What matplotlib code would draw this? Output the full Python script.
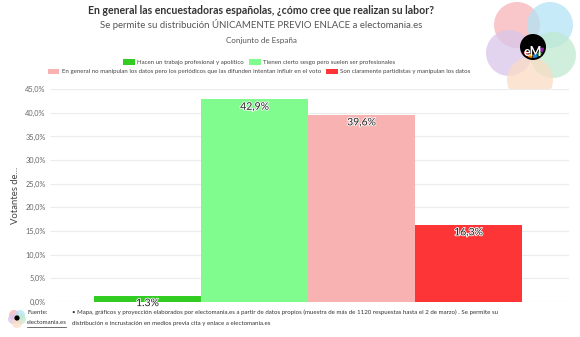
import matplotlib
matplotlib.use("Agg")
import matplotlib.pyplot as plt
from matplotlib.patches import Circle, Patch, Wedge
import matplotlib.patheffects as pe

plt.rcParams['font.family'] = ['Lato', 'DejaVu Sans']

# data
categories = [
    "Hacen un trabajo profesional y apolítico",
    "Tienen cierto sesgo pero suelen ser profesionales",
    "En general no manipulan los datos pero los periódicos que las difunden intentan influir en el voto",
    "Son claramente partidistas y manipulan los datos",
]
values = [1.3, 42.9, 39.6, 16.3]
value_labels = ["1.3%", "42,9%", "39,6%", "16,3%"]
bar_colors = ["#33cc22", "#80fb8e", "#f9b2b2", "#fd3537"]
yticks = [0, 5, 10, 15, 20, 25, 30, 35, 40, 45]
ytick_labels = ["0,0%", "5,0%", "10,0%", "15,0%", "20,0%", "25,0%",
                "30,0%", "35,0%", "40,0%", "45,0%"]

W, H = 580, 337
fig = plt.figure(figsize=(W / 100, H / 100), dpi=100)
fig.patch.set_facecolor("white")

ax = fig.add_axes([50 / W, 1 - 301.7 / H, 519 / W, 212.4 / H])
xs = list(range(len(values)))
ax.bar(xs, values, width=1.0, color=bar_colors, zorder=2)
ax.set_xlim(-0.911, 3.939)
ax.set_ylim(0, 45)
ax.set_yticks(yticks)
ax.set_yticklabels(ytick_labels, fontsize=5.3, color="#666666")
ax.set_xticks([])
ax.tick_params(axis="y", length=0, pad=3)
ax.grid(axis="y", color="#ececec", linewidth=0.8, zorder=0)
for s in ax.spines.values():
    s.set_visible(False)
ax.set_ylabel("Votantes de...", fontsize=6.8, color="#444444", labelpad=4)

for x, v, lab in zip(xs, values, value_labels):
    ax.annotate(lab, (x, v), xytext=(0, -5.8), textcoords="offset points",
                ha="center", va="center", fontsize=7.5, color="#222222",
                path_effects=[pe.withStroke(linewidth=1.2, foreground="white")],
                annotation_clip=False, zorder=5)

# titles
fig.text(261 / W, 1 - 11 / H,
         "En general las encuestadoras españolas, ¿cómo cree que realizan su labor?",
         ha="center", va="center", fontsize=7.6, fontweight="bold", color="#333333")
fig.text(261 / W, 1 - 24 / H,
         "Se permite su distribución ÚNICAMENTE PREVIO ENLACE a electomania.es",
         ha="center", va="center", fontsize=6.9, color="#555555")
fig.text(261 / W, 1 - 41 / H, "Conjunto de España",
         ha="center", va="center", fontsize=5.8, color="#555555")

# legend in two rows
handles = [Patch(facecolor=c, edgecolor="none") for c in bar_colors]
leg_kw = dict(ncol=2, loc="center", frameon=False, fontsize=4.4,
              handlelength=1.9, handleheight=1.0, handletextpad=0.35,
              columnspacing=0.9, labelcolor="#444444", borderpad=0)
fig.legend(handles[:2], categories[:2],
           bbox_to_anchor=(259 / W, 1 - 62 / H), **leg_kw)
fig.legend(handles[2:], categories[2:],
           bbox_to_anchor=(259 / W, 1 - 71.5 / H), **leg_kw)

# logo drawn in a pixel-coordinate overlay axes
lax = fig.add_axes([0, 0, 1, 1], zorder=-1)
lax.set_xlim(0, W)
lax.set_ylim(H, 0)
lax.axis("off")


def logo(cx, cy, s):
    petals = [(-16, -22, "#f7b3b8"), (17, -22, "#b3e3f5"), (-24, 6, "#d9c6ea"),
              (20, 8, "#bfe9cf"), (-3, 33, "#fbdcc4")]
    for dx, dy, c in petals:
        lax.add_patch(Circle((cx + dx * s, cy + dy * s), 23 * s, color=c,
                             alpha=0.75, lw=0))
    lax.add_patch(Circle((cx, cy), 13 * s, color="black", lw=0))
    arc_cols = ["#e53935", "#fb8c00", "#1e88e5", "#43a047", "#8e24aa"]
    for i, c in enumerate(arc_cols):
        a1 = 150 - i * 30
        lax.add_patch(Wedge((cx, cy), 11 * s, a1 - 26, a1, width=3.5 * s,
                            color=c, lw=0))


logo(533, 47, 1.0)
fig.text(533 / W, 1 - 52 / H, "eM", ha="center", va="center",
         fontsize=9, color="white", fontweight="bold")

lax2 = fig.add_axes([0, 0, 1, 1], zorder=3)
lax2.set_xlim(0, W)
lax2.set_ylim(H, 0)
lax2.axis("off")
lax2.patch.set_alpha(0)
for dx, dy, c in [(-3, -3, "#f7b3b8"), (3, -3, "#b3e3f5"), (-4, 1, "#d9c6ea"),
                  (4, 1, "#bfe9cf"), (0, 5, "#fbdcc4")]:
    lax2.add_patch(Circle((17 + dx, 318 + dy), 5, color=c, alpha=0.75, lw=0))
lax2.add_patch(Circle((17, 318), 2.6, color="black", lw=0))

# footer
foot_kw = dict(fontsize=4.4, color="#333333", va="center")
fig.text(27 / W, 1 - 312 / H, "Fuente:", **foot_kw)
fig.text(27 / W, 1 - 323 / H, "electomania.es", **foot_kw)
lax2.plot([27, 66], [326.5, 326.5], color="#333333", lw=0.5)
fig.text(72 / W, 1 - 312 / H,
         "• Mapa, gráficos y proyección elaborados por electomania.es a partir de datos propios "
         "(muestra de más de 1120 respuestas hasta el 2 de marzo) . Se permite su", **foot_kw)
fig.text(72 / W, 1 - 323 / H,
         "distribución e incrustación en medios previa cita y enlace a electomania.es",
         **foot_kw)

fig.savefig("out.png", dpi=100)
